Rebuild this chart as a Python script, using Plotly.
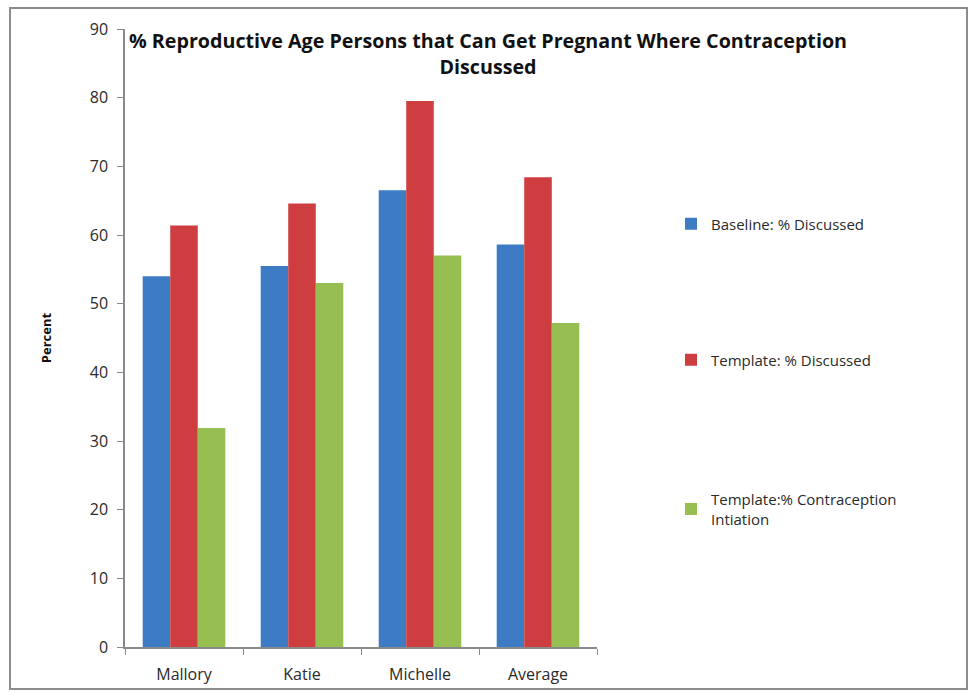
import plotly.graph_objects as go

categories = ["Mallory", "Katie", "Michelle", "Average"]
baseline_discussed = [54.0, 55.5, 66.5, 58.6]
template_discussed = [61.4, 64.6, 79.5, 68.4]
template_initiation = [31.9, 53.0, 57.0, 47.2]

series_names = ["Baseline: % Discussed", "Template: % Discussed",
                "Template:% Contraception<br>Intiation"]
colors = ["#3D7CC4", "#CE3D3F", "#97BE50"]
title_text = ("% Reproductive Age Persons that Can Get Pregnant Where Contraception"
              "<br>Discussed")

fig = go.Figure()
legends = ["legend", "legend2", "legend3"]
for vals, name, col, lg in zip([baseline_discussed, template_discussed, template_initiation],
                               series_names, colors, legends):
    fig.add_trace(go.Bar(x=categories, y=vals, name=name, marker_color=col,
                         marker_line_width=0, legend=lg, showlegend=True))

FONT = "Open Sans"
TXT = "#2a2a2a"
# plot area: x 125..597, y 29..647
W, H = 974, 699
L, R, T, B = 125, 597, 29, 647
pw, ph = R - L, B - T

def px(x):
    return (x - L) / pw

def py(y):
    return (B - y) / ph

legend_common = dict(xref="paper", yref="paper", xanchor="left", yanchor="middle",
                     bgcolor="rgba(0,0,0,0)", font=dict(family=FONT, size=15, color=TXT),
                     itemwidth=30)

fig.update_layout(
    width=W, height=H,
    showlegend=True,
    margin=dict(l=L, r=W - R, t=T, b=H - B, pad=0),
    paper_bgcolor="white", plot_bgcolor="white",
    bargap=0.3, bargroupgap=0,
    barmode="group",
    title=dict(text=title_text, x=488 / W, xanchor="center", xref="container",
               y=1 - 48 / H, yanchor="middle",
               font=dict(family=FONT, size=19.7, color="#111", weight="bold")),
    font=dict(family=FONT, size=15, color=TXT),
    legend=dict(x=px(671), y=py(224), **legend_common),
    legend2=dict(x=px(671), y=py(360), **legend_common),
    legend3=dict(x=px(671), y=py(509), **legend_common),
    xaxis=dict(showline=True, linecolor="#8a8a8a", linewidth=1.5, ticks="outside",
               tickson="boundaries", ticklen=6, tickcolor="#8a8a8a", ticklabelstandoff=12,
               tickfont=dict(family=FONT, size=16, color=TXT), showgrid=False),
    yaxis=dict(range=[0, 90], dtick=10, showline=True, linecolor="#8a8a8a", linewidth=1.5,
               ticks="outside", ticklen=6, tickcolor="#8a8a8a", showgrid=False, zeroline=False,
               ticklabelstandoff=6,
               tickfont=dict(family=FONT, size=16, color=TXT),
               title=dict(text="<b>Percent</b>", standoff=35,
                          font=dict(family=FONT, size=13, color="#111"))),
    shapes=[dict(type="rect", xref="paper", yref="paper",
                 x0=px(10), x1=px(967), y0=py(689), y1=py(8),
                 line=dict(color="#8c8c8c", width=2), fillcolor="rgba(0,0,0,0)",
                 layer="below")],
)

fig.write_html("out.html")
